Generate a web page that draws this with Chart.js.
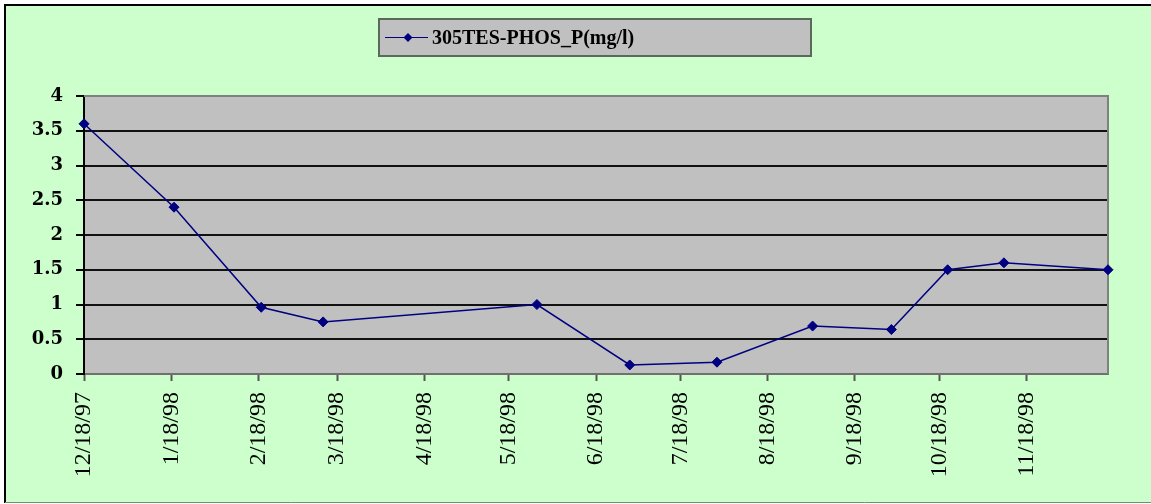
<!DOCTYPE html>
<html>
<head>
<meta charset="utf-8">
<script src="https://cdn.jsdelivr.net/npm/chart.js@4.4.1/dist/chart.umd.min.js"></script>
<style>
  html, body { margin: 0; padding: 0; background: #ffffff; }
  canvas { display: block; }
</style>
</head>
<body>
<canvas id="chart" width="1151" height="504"></canvas>
<script>
// Sampling dates and total phosphorus readings (mg/l)
const sampleDates = ['1997-12-18', '1998-01-19', '1998-02-19', '1998-03-13', '1998-05-28', '1998-06-30',
                     '1998-07-31', '1998-09-03', '1998-10-01', '1998-10-21', '1998-11-10', '1998-12-17'];
const phosValues = [3.6, 2.4, 0.96, 0.75, 1.0, 0.13, 0.17, 0.69, 0.64, 1.5, 1.6, 1.5];
const seriesLabel = '305TES-PHOS_P(mg/l)';

// Monthly date ticks on the horizontal axis
const tickLabels = ['12/18/97', '1/18/98', '2/18/98', '3/18/98', '4/18/98', '5/18/98',
                    '6/18/98', '7/18/98', '8/18/98', '9/18/98', '10/18/98', '11/18/98'];
const yTicks = { min: 0, max: 4, step: 0.5 };

// Day offsets relative to the first sample
const DAY = 86400000;
const origin = Date.UTC(1997, 11, 18);
const isoToDay = s => { const [y, m, d] = s.split('-').map(Number); return (Date.UTC(y, m - 1, d) - origin) / DAY; };
const mdyToDay = s => { const [m, d, yy] = s.split('/').map(Number); return (Date.UTC(1900 + yy, m - 1, d) - origin) / DAY; };

const points = sampleDates.map((s, i) => ({ x: isoToDay(s), y: phosValues[i] }));
const tickDays = tickLabels.map(mdyToDay);
const xMax = isoToDay(sampleDates[sampleDates.length - 1]);

const LINE = '#000080';
const PLOT_BG = '#C0C0C0';
const PAGE_BG = '#CCFFCC';

const frame = {
  id: 'frame',
  beforeDraw(chart) {
    const { ctx, chartArea: a, width, height } = chart;
    ctx.save();
    ctx.fillStyle = '#ffffff';
    ctx.fillRect(0, 0, width, height);
    ctx.fillStyle = PAGE_BG;
    ctx.fillRect(5, 5, width - 5, height - 6);
    ctx.fillStyle = PLOT_BG;
    ctx.fillRect(a.left, a.top, a.right - a.left, a.bottom - a.top);
    ctx.restore();
  },
  beforeDatasetsDraw(chart) {
    const { ctx, chartArea: a } = chart;
    ctx.save();
    ctx.strokeStyle = '#808080';
    ctx.lineWidth = 2;
    ctx.beginPath();
    ctx.moveTo(a.left, a.top);
    ctx.lineTo(a.right, a.top);
    ctx.lineTo(a.right, a.bottom);
    ctx.stroke();
    ctx.restore();
  },
  afterDraw(chart) {
    const { ctx, width, height } = chart;
    ctx.save();
    // outer frame
    ctx.strokeStyle = '#000000';
    ctx.lineWidth = 2;
    ctx.beginPath();
    ctx.moveTo(5, height - 1);
    ctx.lineTo(5, 5);
    ctx.lineTo(width, 5);
    ctx.stroke();
    ctx.strokeStyle = '#6f8f6f';
    ctx.lineWidth = 1;
    ctx.beginPath();
    ctx.moveTo(5, height - 1.5);
    ctx.lineTo(width, height - 1.5);
    ctx.stroke();

    // legend box
    const lx = 379, ly = 19, lw = 432, lh = 37;
    ctx.fillStyle = PLOT_BG;
    ctx.fillRect(lx, ly, lw, lh);
    ctx.strokeStyle = '#5a6a5a';
    ctx.lineWidth = 2;
    ctx.strokeRect(lx, ly, lw, lh);
    const cy = ly + lh / 2;
    ctx.strokeStyle = LINE;
    ctx.lineWidth = 1.2;
    ctx.beginPath();
    ctx.moveTo(385, cy);
    ctx.lineTo(428, cy);
    ctx.stroke();
    ctx.fillStyle = LINE;
    ctx.beginPath();
    ctx.moveTo(408, cy - 4.5);
    ctx.lineTo(412.5, cy);
    ctx.lineTo(408, cy + 4.5);
    ctx.lineTo(403.5, cy);
    ctx.closePath();
    ctx.fill();
    ctx.fillStyle = '#000000';
    ctx.font = 'bold 20px "Liberation Serif", serif';
    ctx.textAlign = 'left';
    ctx.textBaseline = 'middle';
    ctx.fillText(chart.data.datasets[0].label, 432, cy + 1);
    ctx.restore();
  }
};

new Chart(document.getElementById('chart'), {
  type: 'line',
  data: {
    datasets: [{
      label: seriesLabel,
      data: points,
      borderColor: LINE,
      borderWidth: 1.5,
      backgroundColor: LINE,
      pointStyle: 'rectRot',
      pointRadius: 5,
      pointBorderWidth: 1,
      pointBorderColor: LINE,
      pointBackgroundColor: LINE,
      tension: 0,
      clip: false
    }]
  },
  options: {
    responsive: false,
    animation: false,
    devicePixelRatio: 1,
    layout: { padding: { top: 96, right: 43, left: 0, bottom: 0 } },
    plugins: { legend: { display: false }, tooltip: { enabled: false } },
    scales: {
      x: {
        type: 'linear',
        min: 0,
        max: xMax,
        afterFit(scale) { scale.height = 130; },
        afterBuildTicks(scale) { scale.ticks = tickDays.map(v => ({ value: v })); },
        ticks: {
          autoSkip: false,
          minRotation: 90,
          maxRotation: 90,
          padding: 11,
          color: '#000000',
          font: { family: '"Liberation Serif", serif', size: 24 },
          callback: (v) => { const i = tickDays.indexOf(v); return i >= 0 ? tickLabels[i] : ''; }
        },
        grid: { drawOnChartArea: false, drawTicks: true, tickLength: 7, tickColor: '#555555', tickWidth: 2 },
        border: { color: '#707070', width: 2 }
      },
      y: {
        min: yTicks.min,
        max: yTicks.max,
        afterFit(scale) { scale.width = 84; },
        ticks: {
          stepSize: yTicks.step,
          padding: 13,
          color: '#000000',
          font: { family: '"DejaVu Serif", serif', size: 18, weight: 'bold' },
          callback: (v) => String(Number(v))
        },
        grid: {
          color: (c) => (c.tick && (c.tick.value === yTicks.min || c.tick.value === yTicks.max)) ? '#808080' : '#111111',
          lineWidth: 2,
          tickLength: 8,
          tickColor: '#000000',
          tickWidth: 2
        },
        border: { color: '#000000', width: 2 }
      }
    }
  },
  plugins: [frame]
});
</script>
</body>
</html>
